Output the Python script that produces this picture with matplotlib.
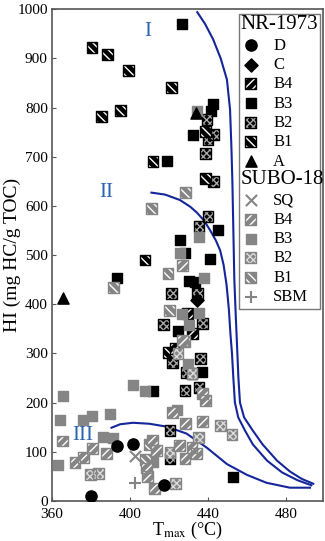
import matplotlib
matplotlib.use("Agg")
import matplotlib.pyplot as plt
from matplotlib.legend_handler import HandlerBase, HandlerTuple
from matplotlib.text import Text

plt.rcParams['font.family'] = ['Liberation Serif', 'DejaVu Serif']
plt.rcParams['mathtext.fontset'] = 'stix'
plt.rcParams['hatch.linewidth'] = 1.0

# ---- data (Tmax in degC, HI in mg HC/g TOC) ----
nr_d_t = [380, 393.5, 401.5, 417.5]
nr_d_hi = [10, 112, 116, 33]
nr_c_t = [434.5]
nr_c_hi = [408]
nr_b4_t = [429.5, 423.5, 432]
nr_b4_hi = [382, 310, 340]
nr_b3_t = [426.7, 442.5, 441.5, 432.3, 419, 445, 425.6, 441, 393.3, 430.3, 433.3, 428, 424.6, 436.9, 411.8, 452.8]
nr_b3_hi = [969, 808, 792, 745, 692, 551, 531, 492, 453, 448, 445, 505, 345, 262, 223, 48]
nr_b2_t = [439.5, 442.6, 440, 438.5, 442.6, 440, 435.4, 421.5, 434.4, 417, 437, 422, 429, 431.8, 436, 428.2, 435.4, 420.5, 420.5]
nr_b2_hi = [776, 745, 735, 706, 650, 578, 558, 422, 422, 359, 361, 282, 261, 259, 290, 224, 231, 143, 86]
nr_b1_t = [380.5, 388.7, 399, 421.5, 385.6, 394.9, 411.8, 438.5, 438.5, 407.7, 419.5]
nr_b1_hi = [922, 908, 876, 841, 782, 794, 690, 751, 655, 490, 302]
nr_a_t = [365.5, 434]
nr_a_hi = [412, 788]

sq_t = [402.6]
sq_hi = [92]
sbm_t = [402.6]
sbm_hi = [37]
su_b3_t = [434.4, 435.2, 425.6, 438.2, 426.7, 435.4, 430.3, 429.7, 401.5, 407.7, 424, 365.6, 364, 376, 380.3, 389.7, 386, 391.5, 363, 411.8]
su_b3_hi = [794, 536, 504, 454, 380, 382, 358, 278, 235, 224, 184, 213, 165, 165, 173, 176, 131, 128, 74, 80]
su_b4_t = [426.7, 427, 438.5, 437, 437.4, 428.6, 365.3, 371.8, 376, 381, 387.8, 411.5, 408.7, 409.1, 412.8, 413.8, 425.6, 431.8, 428.2, 434, 422]
su_b4_hi = [478, 327, 205, 218, 162, 157, 122, 78, 88, 106, 96, 124, 67, 49, 26, 102, 112, 109, 87, 96, 180]
su_b2_t = [424.6, 431.8, 446.5, 452.3, 434.9, 379.8, 384, 423.5, 420.5]
su_b2_hi = [300, 259, 153, 136, 129, 54, 55, 35, 98]
su_b1_t = [428.5, 410.8, 391.3, 419.5, 420.2, 428.2, 410, 408]
su_b1_hi = [628, 595, 435, 463, 388, 324, 115, 85]

# kerogen type boundaries
c1_t = [434.5, 438.5, 442.6, 446.5, 449.7, 451.3, 452, 452.5, 453, 453.5, 454.2, 455, 455.6, 456.4, 458.5, 463, 468, 475.4, 482, 488, 494]
c1_hi = [994, 970, 939, 900, 857, 796, 720, 650, 550, 450, 380, 306, 250, 200, 170, 143, 115, 82, 60, 45, 35]
c2_t = [411, 418, 425.6, 431, 434.4, 438, 441, 444, 446.2, 448, 449.5, 450.7, 451.5, 452.3, 453, 453.8, 455.5, 459, 463, 470.3, 478, 486, 493]
c2_hi = [627, 623, 612, 598, 586, 570, 551, 530, 510, 480, 440, 390, 340, 300, 250, 200, 170, 143, 115, 82, 58, 42, 32]
c3_t = [390.5, 395, 401.5, 410, 419, 429, 439.5, 449.7, 460, 470, 482, 492.3]
c3_hi = [149, 156, 159, 157, 151, 137, 108, 75, 53, 37, 27, 27]

GRAY = '#858585'
BLUE = '#15259a'
SQ = 62

fig = plt.figure(figsize=(3.25, 5.41), dpi=100)
ax = fig.add_axes([0.16, 0.074, 0.834, 0.909])


def hatched(t, hi, face, hcol, hatch, edge, s=SQ):
    a = ax.scatter(t, hi, marker='s', s=s, facecolor=face, edgecolor=hcol,
                   hatch=hatch, linewidths=0, zorder=3)
    b = ax.scatter(t, hi, marker='s', s=s, facecolor='none', edgecolor=edge,
                   linewidths=1.0, zorder=3)
    return (a, b)


h_nr_b3 = ax.scatter(nr_b3_t, nr_b3_hi, marker='s', s=SQ, color='black', zorder=3)
h_nr_b2 = hatched(nr_b2_t, nr_b2_hi, 'black', '#a8a8a8', 'xxxxx', 'black')
h_nr_b1 = hatched(nr_b1_t, nr_b1_hi, 'black', 'white', '\\\\\\\\', 'black')
h_nr_b4 = hatched(nr_b4_t, nr_b4_hi, 'black', 'white', '////', 'black')

h_su_b3 = ax.scatter(su_b3_t, su_b3_hi, marker='s', s=SQ, color=GRAY, zorder=3)
h_su_b2 = hatched(su_b2_t, su_b2_hi, GRAY, '#dcdcdc', 'xxxxx', GRAY)
h_su_b1 = hatched(su_b1_t, su_b1_hi, GRAY, 'white', '\\\\\\\\', GRAY)
h_su_b4 = hatched(su_b4_t, su_b4_hi, GRAY, 'white', '////', GRAY)
h_sq = ax.scatter(sq_t, sq_hi, marker='x', s=65, color=GRAY, linewidths=1.5, zorder=4)
h_sbm = ax.scatter(sbm_t, sbm_hi, marker='+', s=75, color=GRAY, linewidths=1.5, zorder=4)

h_nr_d = ax.scatter(nr_d_t, nr_d_hi, marker='o', s=65, color='black', zorder=4)
h_nr_c = ax.scatter(nr_c_t, nr_c_hi, marker='D', s=45, color='black', zorder=4)
h_nr_a = ax.scatter(nr_a_t, nr_a_hi, marker='^', s=65, color='black', zorder=4)

ax.plot(c1_t, c1_hi, color=BLUE, lw=1.5, zorder=2)
ax.plot(c2_t, c2_hi, color=BLUE, lw=1.5, zorder=2)
ax.plot(c3_t, c3_hi, color=BLUE, lw=1.5, zorder=2)

ax.text(409, 955, 'I', color='#2a64ae', fontsize=15, ha='center', va='center')
ax.text(388, 627, 'II', color='#2a64ae', fontsize=15, ha='center', va='center')
ax.text(376, 133, 'III', color='#2a64ae', fontsize=15, ha='center', va='center')

ax.set_xlim(360, 499)
ax.set_ylim(0, 1000)
ax.set_xticks([360, 400, 440, 480])
ax.set_yticks(range(0, 1001, 100))
ax.tick_params(direction='in', length=3, labelsize=11, color='#555555', pad=3)
ax.tick_params(axis='x', pad=5)
for sp in ax.spines.values():
    sp.set_color('#555555')
    sp.set_linewidth(1.2)
ax.set_xlabel('T$_{\\mathrm{max}}$ (°C)', fontsize=13, labelpad=-1)
ax.set_ylabel('HI (mg HC/g TOC)', fontsize=14)
ax.yaxis.set_label_coords(-0.113, 0.5)


class Header:
    def __init__(self, text):
        self.text = text


class HeaderHandler(HandlerBase):
    def create_artists(self, legend, orig_handle, xdescent, ydescent,
                       width, height, fontsize, trans):
        t = Text(-xdescent - 2, height / 2 - ydescent, orig_handle.text,
                 fontsize=15, ha='left', va='center', transform=trans)
        return [t]


handles = [Header('NR-1973'), h_nr_d, h_nr_c, h_nr_b4, h_nr_b3, h_nr_b2, h_nr_b1, h_nr_a,
           Header('SUBO-18'), h_sq, h_su_b4, h_su_b3, h_su_b2, h_su_b1, h_sbm]
labels = ['', 'D', 'C', 'B4', 'B3', 'B2', 'B1', 'A',
          '', 'SQ', 'B4', 'B3', 'B2', 'B1', 'SBM']
leg = ax.legend(handles, labels, loc='upper left', bbox_to_anchor=(0.69, 0.99, 0.30, 0),
                mode='expand', fontsize=12, frameon=True, fancybox=False,
                edgecolor='#777777', framealpha=1, borderpad=0.25, borderaxespad=0,
                labelspacing=0.2, handlelength=0.9, handletextpad=0.9, scatterpoints=1,
                handler_map={Header: HeaderHandler(), tuple: HandlerTuple(ndivide=1)})
leg.get_frame().set_linewidth(1.0)

fig.savefig('out.png', dpi=100)
